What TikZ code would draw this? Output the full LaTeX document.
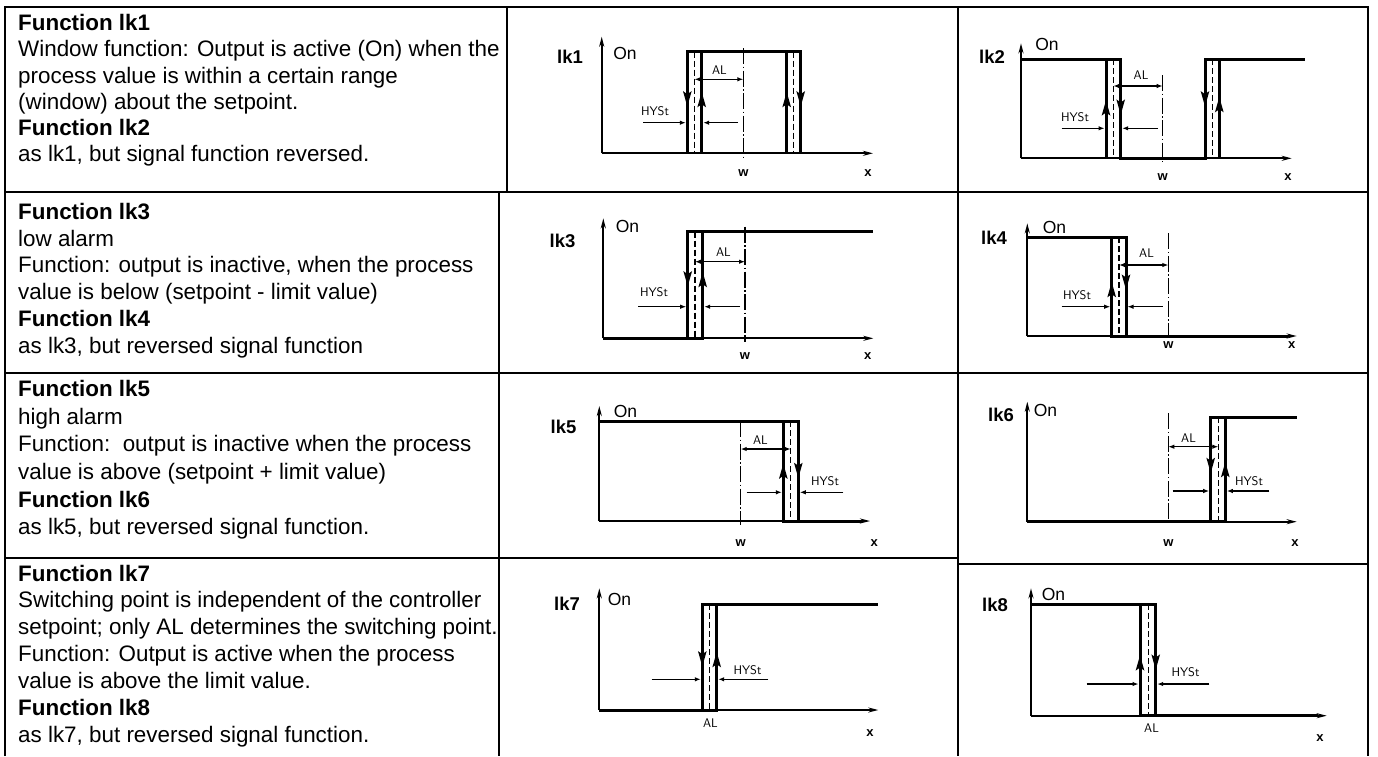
\documentclass[tikz,border=0pt]{standalone}
\usepackage{fontspec}
\setmainfont{Liberation Sans}
\usetikzlibrary{arrows.meta}
\begin{document}
\begin{tikzpicture}[x=1pt,y=-1pt,
  tbl/.style={line width=1.8pt},
  txt/.style={anchor=base west, inner sep=0pt, font=\fontsize{22.4}{26}\selectfont},
  txtb/.style={anchor=base west, inner sep=0pt, font=\fontsize{22.4}{26}\selectfont\bfseries},
  plbl/.style={inner sep=0pt, font=\fontsize{18.5}{20}\selectfont\bfseries},
  onlbl/.style={inner sep=0pt, font=\fontsize{17.5}{20}\selectfont},
  axlbl/.style={inner sep=0pt, font=\fontsize{13}{15}\selectfont\bfseries},
  seg/.style={inner sep=0pt, font=\fontsize{12.5}{14}\sffamily},
  axis/.style={line width=2.2pt, -{Stealth[length=10pt,width=5pt]}},
  lvl/.style={line width=3pt, line join=miter},
  mid/.style={line width=1.1pt, dash pattern=on 6pt off 3pt},
  wline/.style={line width=1.1pt, dash pattern=on 16pt off 2.5pt on 1.5pt off 2.5pt},
  dim/.style={line width=1.1pt, -{Latex[length=6pt,width=4.5pt]}},
  dimb/.style={line width=1.1pt, {Latex[length=6pt,width=4.5pt]}-{Latex[length=6pt,width=4.5pt]}},
  flow/.style={line width=3pt, -{Stealth[length=15pt,width=8pt,inset=2.5pt]}}
]
\useasboundingbox (0,0) rectangle (1378,756);
\fill[white] (0,0) rectangle (1378,756);

% ---------------- table ----------------
\draw[tbl] (5,756) -- (5,7) -- (1368,7) -- (1368,756);
\draw[tbl] (507,7) -- (507,192);
\draw[tbl] (499,192) -- (499,756);
\draw[tbl] (958,7) -- (958,756);
\draw[tbl] (5,192) -- (1368,192);
\draw[tbl] (5,373) -- (1368,373);
\draw[tbl] (5,558) -- (958,558);
\draw[tbl] (958,564) -- (1368,564);

% ---------------- text column ----------------
\node[txtb] (r1a) at (18,30.7) {Function lk1};
\node[txt]  (r1b) at (18,56.9) {Window function: Output is active (On) when the};
\node[txt]  (r1c) at (18,83.1) {process value is within a certain range};
\node[txt]  (r1d) at (18,109.3) {(window) about the setpoint.};
\node[txtb] (r1e) at (18,135.5) {Function lk2};
\node[txt]  (r1f) at (18,161.7) {as lk1, but signal function reversed.};

\node[txtb] (r2a) at (18,219.3) {Function lk3};
\node[txt]  (r2b) at (18,246.1) {low alarm};
\node[txt]  (r2c) at (18,272.9) {Function: output is inactive, when the process};
\node[txt]  (r2d) at (18,299.7) {value is below (setpoint - limit value)};
\node[txtb] (r2e) at (18,326.5) {Function lk4};
\node[txt]  (r2f) at (18,353.3) {as lk3, but reversed signal function};

\node[txtb] (r3a) at (18,396.7) {Function lk5};
\node[txt]  (r3b) at (18,424.3) {high alarm};
\node[txt]  (r3c) at (18,451.9) {Function:\ \ output is inactive when the process};
\node[txt]  (r3d) at (18,479.5) {value is above (setpoint + limit value)};
\node[txtb] (r3e) at (18,507.1) {Function lk6};
\node[txt]  (r3f) at (18,534.7) {as lk5, but reversed signal function.};

\node[txtb] (r4a) at (18,581) {Function lk7};
\node[txt]  (r4b) at (18,607.9) {Switching point is independent of the controller};
\node[txt]  (r4c) at (18,634.8) {setpoint; only AL determines the switching point.};
\node[txt]  (r4d) at (18,661.7) {Function: Output is active when the process};
\node[txt]  (r4e) at (18,688.6) {value is above the limit value.};
\node[txtb] (r4f) at (18,715.5) {Function lk8};
\node[txt]  (r4g) at (18,742.4) {as lk7, but reversed signal function.};

% ---------------- lk1 ----------------
\draw[axis] (601.7,153.3) -- (601.7,36.7);
\draw[axis] (601.7,153.3) -- (873,153.3);
\draw[lvl] (687.3,153.3) -- (687.3,51.7) -- (800.7,51.7) -- (800.7,153.3);
\draw[lvl] (701.7,51.7) -- (701.7,153.3);
\draw[lvl] (786.7,51.7) -- (786.7,153.3);
\draw[mid] (694.5,51.7) -- (694.5,153.3);
\draw[mid] (793.7,51.7) -- (793.7,153.3);
\draw[wline] (743.3,48) -- (743.3,157);
\draw[flow] (687.3,90) -- (687.3,106.7);
\draw[flow] (701.7,108) -- (701.7,91.7);
\draw[flow] (786.7,108) -- (786.7,91.7);
\draw[flow] (800.7,90) -- (800.7,106.7);
\draw[dimb] (694.5,79.3) -- (743.3,79.3);
\draw[dim] (643,122.7) -- (685.8,122.7);
\draw[dim] (738,122.7) -- (703.2,122.7);
\node[seg] (al1) at (719.5,70) {AL};
\node[seg] (hy1) at (655,111) {HYSt};
\node[plbl] (L1) at (570,56.5) {lk1};
\node[onlbl] (on1) at (625,53) {On};
\node[axlbl] (w1) at (743.3,173) {w};
\node[axlbl] (x1) at (868,173) {x};

% ---------------- lk2 ----------------
\draw[axis] (1021,158.3) -- (1021,43.3);
\draw[axis] (1021,158.3) -- (1291.7,158.3);
\draw[lvl] (1021,59.3) -- (1120.7,59.3) -- (1120.7,158.3) -- (1205,158.3) -- (1205,59.3) -- (1305,59.3);
\draw[lvl] (1106,59.3) -- (1106,158.3);
\draw[lvl] (1219.3,59.3) -- (1219.3,158.3);
\draw[mid] (1113.3,59.3) -- (1113.3,158.3);
\draw[mid] (1212.3,59.3) -- (1212.3,158.3);
\draw[wline] (1162.7,75) -- (1162.7,162);
\draw[flow] (1106,116) -- (1106,100);
\draw[flow] (1120.7,99) -- (1120.7,115);
\draw[flow] (1205,90) -- (1205,106.7);
\draw[flow] (1219.3,113) -- (1219.3,96.7);
\draw[dimb] (1113.3,86) -- (1162.7,86);
\draw[dim] (1061.7,128.3) -- (1104.5,128.3);
\draw[dim] (1158,128.3) -- (1122.2,128.3);
\node[seg] (al2) at (1141,75) {AL};
\node[seg] (hy2) at (1075,117) {HYSt};
\node[plbl] (L2) at (992,57) {lk2};
\node[onlbl] (on2) at (1047,44) {On};
\node[axlbl] (w2) at (1162.7,177) {w};
\node[axlbl] (x2) at (1288,177) {x};

% ---------------- lk3 ----------------
\draw[axis] (603.3,338.3) -- (603.3,218.3);
\draw[axis] (603.3,338.3) -- (873.3,338.3);
\draw[lvl] (603.3,338.3) -- (702.7,338.3) -- (702.7,231.7);
\draw[lvl] (687.7,338.3) -- (687.7,231.7) -- (873.3,231.7);
\draw[mid] (695,231.7) -- (695,338.3);
\draw[wline] (745,226.7) -- (745,341.7);
\draw[flow] (687.7,270) -- (687.7,286.7);
\draw[flow] (702.7,288) -- (702.7,271.7);
\draw[dimb] (695,261.7) -- (745,261.7);
\draw[dim] (638,306.7) -- (686.2,306.7);
\draw[dim] (740,306.7) -- (704.2,306.7);
\node[seg] (al3) at (723.5,252) {AL};
\node[seg] (hy3) at (654,292) {HYSt};
\node[plbl] (L3) at (562.5,241) {lk3};
\node[onlbl] (on3) at (627.5,226) {On};
\node[axlbl] (w3) at (745,355.7) {w};
\node[axlbl] (x3) at (867.7,355.7) {x};

% ---------------- lk4 ----------------
\draw[axis] (1027.3,336) -- (1027.3,223.3);
\draw[axis] (1027.3,336) -- (1296.7,336);
\draw[lvl] (1027.3,237.3) -- (1126,237.3) -- (1126,336);
\draw[lvl] (1111.7,237.3) -- (1111.7,336) -- (1288,336);
\draw[mid] (1119,237.3) -- (1119,336);
\draw[wline] (1168.3,233.3) -- (1168.3,338.3);
\draw[flow] (1111.7,298) -- (1111.7,281.7);
\draw[flow] (1126,274) -- (1126,290);
\draw[dimb] (1119,265) -- (1168.3,265);
\draw[dim] (1061.7,306.7) -- (1110.2,306.7);
\draw[dim] (1162.7,306.7) -- (1127.5,306.7);
\node[seg] (al4) at (1146.5,253) {AL};
\node[seg] (hy4) at (1077,295) {HYSt};
\node[plbl] (L4) at (994,238) {lk4};
\node[onlbl] (on4) at (1054.5,227) {On};
\node[axlbl] (w4) at (1168.3,345) {w};
\node[axlbl] (x4) at (1291.7,345) {x};

% ---------------- lk5 ----------------
\draw[axis] (599.3,521) -- (599.3,406);
\draw[axis] (599.3,521) -- (870,521);
\draw[lvl] (599.3,421) -- (798.3,421) -- (798.3,521);
\draw[lvl] (783.3,421) -- (783.3,521) -- (862,521);
\draw[mid] (790.7,421) -- (790.7,521);
\draw[wline] (740.7,421) -- (740.7,525);
\draw[flow] (783.3,480) -- (783.3,463.3);
\draw[flow] (798.3,462) -- (798.3,478.3);
\draw[dimb] (740.7,449) -- (790.7,449);
\draw[dim] (746.7,492.3) -- (781.8,492.3);
\draw[dim] (843.3,492.3) -- (799.8,492.3);
\node[seg] (al5) at (760.5,440) {AL};
\node[seg] (hy5) at (825,481) {HYSt};
\node[plbl] (L5) at (563.5,427) {lk5};
\node[onlbl] (on5) at (625.5,411) {On};
\node[axlbl] (w5) at (740.7,543.3) {w};
\node[axlbl] (x5) at (874.3,543.3) {x};

% ---------------- lk6 ----------------
\draw[axis] (1027.3,521.7) -- (1027.3,401.7);
\draw[axis] (1027.3,521.7) -- (1296.7,521.7);
\draw[lvl] (1027.3,521.7) -- (1225.3,521.7) -- (1225.3,417.3);
\draw[lvl] (1210.7,521.7) -- (1210.7,417.3) -- (1296.7,417.3);
\draw[mid] (1218.3,417.3) -- (1218.3,521.7);
\draw[wline] (1168.3,413.3) -- (1168.3,525);
\draw[flow] (1210.7,457) -- (1210.7,473.3);
\draw[flow] (1225.3,478) -- (1225.3,461.7);
\draw[dimb] (1168.3,446.7) -- (1218.3,446.7);
\draw[dim] (1172.7,491) -- (1209.2,491);
\draw[dim] (1269.3,491) -- (1226.8,491);
\node[seg] (al6) at (1188.5,438) {AL};
\node[seg] (hy6) at (1249,481) {HYSt};
\node[plbl] (L6) at (1001,415) {lk6};
\node[onlbl] (on6) at (1045.5,410) {On};
\node[axlbl] (w6) at (1168.3,543.3) {w};
\node[axlbl] (x6) at (1295,543.3) {x};

% ---------------- lk7 ----------------
\draw[axis] (599.3,710) -- (599.3,588.3);
\draw[axis] (599.3,710) -- (878.3,710);
\draw[lvl] (599.3,710) -- (716.7,710) -- (716.7,604.3);
\draw[lvl] (702.3,710) -- (702.3,604.3) -- (878.3,604.3);
\draw[mid] (709.3,604.3) -- (709.3,710);
\draw[flow] (702.3,650) -- (702.3,666.7);
\draw[flow] (716.7,668) -- (716.7,651.7);
\draw[dim] (651.7,679.3) -- (700.8,679.3);
\draw[dim] (768.3,679.3) -- (718.2,679.3);
\node[seg] (al7) at (710.5,723) {AL};
\node[seg] (hy7) at (747.5,670) {HYSt};
\node[plbl] (L7) at (567,604) {lk7};
\node[onlbl] (on7) at (619.5,599) {On};
\node[axlbl] (x7) at (870,733.3) {x};

% ---------------- lk8 ----------------
\draw[axis] (1031,715.7) -- (1031,588.3);
\draw[axis] (1031,715.7) -- (1326.7,715.7);
\draw[lvl] (1031,604) -- (1155.7,604) -- (1155.7,715.7);
\draw[lvl] (1140,604) -- (1140,715.7) -- (1318,715.7);
\draw[mid] (1148.3,604) -- (1148.3,715.7);
\draw[flow] (1140,671) -- (1140,655);
\draw[flow] (1155.7,654) -- (1155.7,670);
\draw[dim] (1086.7,684) -- (1138.5,684);
\draw[dim] (1209.3,684) -- (1157.2,684);
\node[seg] (al8) at (1151.5,728) {AL};
\node[seg] (hy8) at (1185.5,672) {HYSt};
\node[plbl] (L8) at (995,605) {lk8};
\node[onlbl] (on8) at (1053.5,594) {On};
\node[axlbl] (x8) at (1320,738.3) {x};
\end{tikzpicture}
\end{document}
